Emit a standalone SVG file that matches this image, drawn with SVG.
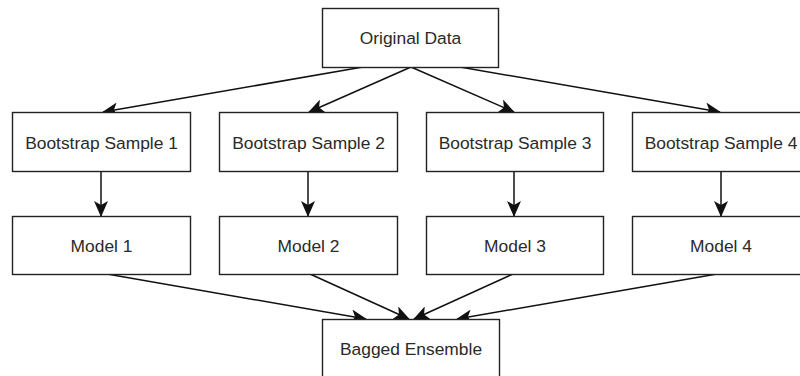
<svg xmlns="http://www.w3.org/2000/svg" width="800" height="376" viewBox="0 0 800 376">
<style>
.box{fill:#fff;stroke:#222;stroke-width:1.4}
.lbl{font-family:"Liberation Sans",Arial,sans-serif;font-size:17.4px;fill:#2a2a2a;text-anchor:middle}
.edge{fill:none;stroke:#111;stroke-width:1.5;marker-end:url(#arr)}
</style>
<defs>
<marker id="arr" markerUnits="userSpaceOnUse" markerWidth="16" markerHeight="14" viewBox="0 0 16 14" refX="15" refY="7" orient="auto">
<path d="M0,0 L16,7 L0,14 L4,7 z" fill="#111"/>
</marker>
</defs>
<rect width="800" height="376" fill="#fff"/>
<g id="connectors">
<line class="edge" x1="363" y1="67" x2="103" y2="112"/>
<line class="edge" x1="411" y1="67" x2="309" y2="112"/>
<line class="edge" x1="411" y1="67" x2="514" y2="112"/>
<line class="edge" x1="460" y1="67" x2="720" y2="112"/>
<line class="edge" x1="101" y1="171" x2="101" y2="216"/>
<line class="edge" x1="308" y1="171" x2="308" y2="216"/>
<line class="edge" x1="514" y1="171" x2="514" y2="216"/>
<line class="edge" x1="721" y1="171" x2="721" y2="216"/>
<line class="edge" x1="107" y1="274" x2="366" y2="319"/>
<line class="edge" x1="310" y1="274" x2="409" y2="319"/>
<line class="edge" x1="513" y1="274" x2="414" y2="319"/>
<line class="edge" x1="717" y1="274" x2="457" y2="319"/>
</g>
<g id="original-data"><rect class="box" x="322.5" y="8.5" width="176" height="59"/><text class="lbl" x="410.5" y="43.5">Original Data</text></g>
<g id="bootstrap-1"><rect class="box" x="12.5" y="112.5" width="178" height="59"/><text class="lbl" x="101.5" y="148.5">Bootstrap Sample 1</text></g>
<g id="bootstrap-2"><rect class="box" x="219.5" y="112.5" width="178" height="59"/><text class="lbl" x="308.5" y="148.5">Bootstrap Sample 2</text></g>
<g id="bootstrap-3"><rect class="box" x="426.5" y="112.5" width="177" height="59"/><text class="lbl" x="515" y="148.5">Bootstrap Sample 3</text></g>
<g id="bootstrap-4"><rect class="box" x="632.5" y="112.5" width="178" height="59"/><text class="lbl" x="721" y="148.5">Bootstrap Sample 4</text></g>
<g id="model-1"><rect class="box" x="12.5" y="216.5" width="178" height="58"/><text class="lbl" x="101.5" y="251.5">Model 1</text></g>
<g id="model-2"><rect class="box" x="219.5" y="216.5" width="178" height="58"/><text class="lbl" x="308.5" y="251.5">Model 2</text></g>
<g id="model-3"><rect class="box" x="426.5" y="216.5" width="177" height="58"/><text class="lbl" x="515" y="251.5">Model 3</text></g>
<g id="model-4"><rect class="box" x="632.5" y="216.5" width="178" height="58"/><text class="lbl" x="721" y="251.5">Model 4</text></g>
<g id="bagged-ensemble"><rect class="box" x="322.5" y="319.5" width="177" height="59"/><text class="lbl" x="411" y="355">Bagged Ensemble</text></g>
</svg>
